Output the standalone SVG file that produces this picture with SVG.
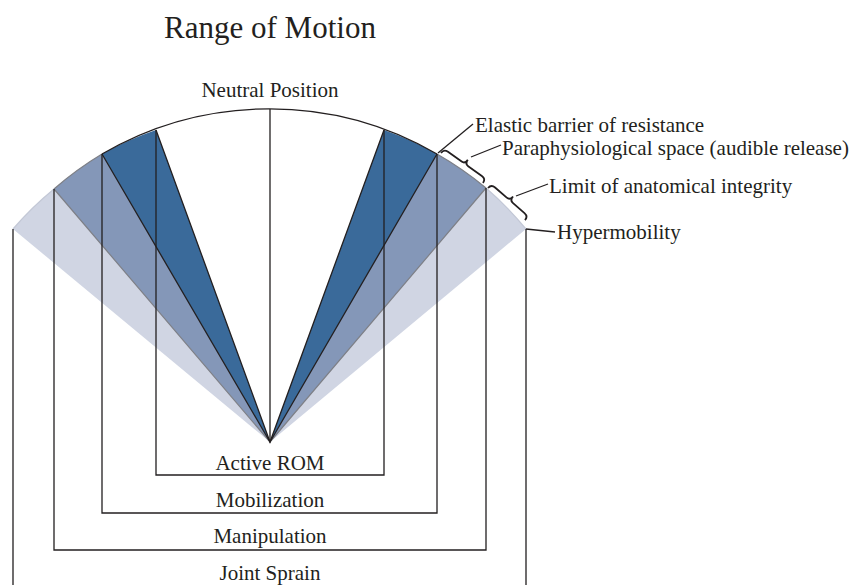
<svg xmlns="http://www.w3.org/2000/svg" width="853" height="585" viewBox="0 0 853 585">
<style>
text{font-family:"Liberation Serif","Times New Roman",serif;fill:#231f20;font-size:21px}
.t{text-anchor:middle}
.blk{fill:none;stroke:#231f20;stroke-width:1.3}
.gry{fill:none;stroke:#7d7f86;stroke-width:1.2}
.lt{fill:none;stroke:#c3c8d6;stroke-width:1.2}
.dark{fill:#3a6a9a}
.med{fill:#8497b8}
.light{fill:#d0d5e3}
.brace{fill:none;stroke:#231f20;stroke-width:1.8}
</style>
<rect width="853" height="585" fill="#fff"/>
<text x="270" y="38" class="t" style="font-size:31px">Range of Motion</text>
<g id="wedges">
<path class="light" d="M270,442 L13,229 A333,333 0 0 1 54,189 Z"/>
<path class="light" d="M270,442 L486,188 A333,333 0 0 1 526,229 Z"/>
<path class="med" d="M270,442 L54,189 A333,333 0 0 1 102,154 Z"/>
<path class="med" d="M270,442 L437,154 A333,333 0 0 1 486,188 Z"/>
<path class="dark" d="M270,442 L102,154 A333,333 0 0 1 156,130 Z"/>
<path class="dark" d="M270,442 L384,130 A333,333 0 0 1 437,154 Z"/>
<path class="lt" d="M13,229 A333,333 0 0 1 54,189"/>
<path class="lt" d="M486,188 A333,333 0 0 1 526,229"/>
<path class="gry" d="M54,189 A333,333 0 0 1 102,154"/>
<path class="gry" d="M437,154 A333,333 0 0 1 486,188"/>
<path class="gry" d="M54,189 L270,442 L486,188"/>
<path class="blk" d="M102,154 A333,333 0 0 1 437,154"/>
<path class="blk" d="M102,154 L270,442 L437,154"/>
<path class="blk" d="M156,130 L270,442 L384,130"/>
<path class="blk" d="M270,109 V442"/>
</g>
<g id="active-rom">
<path class="blk" d="M156,130 V475 H384 V130"/>
<text x="270" y="470" class="t">Active ROM</text>
</g>
<g id="mobilization">
<path class="blk" d="M102,154 V513 H437 V154"/>
<text x="270" y="507" class="t">Mobilization</text>
</g>
<g id="manipulation">
<path class="blk" d="M54,189 V550 H486 V188"/>
<text x="270" y="543" class="t">Manipulation</text>
</g>
<g id="joint-sprain">
<path class="blk" d="M13,229 V585 M526,229 V585"/>
<text x="270" y="580" class="t">Joint Sprain</text>
</g>
<g id="neutral">
<text x="270" y="97" class="t">Neutral Position</text>
</g>
<g id="labels">
<text x="475" y="132">Elastic barrier of resistance</text>
<text x="502" y="155">Paraphysiological space (audible release)</text>
<text x="549" y="193">Limit of anatomical integrity</text>
<text x="557" y="239">Hypermobility</text>
</g>
<g id="connectors">
<path class="blk" d="M438,153 L473,124"/>
<path class="blk" d="M471,157 L501,145"/>
<path class="blk" d="M516,196 L548,184"/>
<path class="blk" d="M526,229 L555,232"/>
<path class="brace" transform="translate(441,153) rotate(35.5)" d="M0,0 C0,-3 2,-5 5,-5 L21.8,-5 C24.8,-5 25.8,-7 25.8,-10 C25.8,-7 26.8,-5 29.8,-5 L46.6,-5 C49.6,-5 51.6,-3 51.6,0"/>
<path class="brace" transform="translate(488,188) rotate(41)" d="M0,0 C0,-3 2,-5 5,-5 L20.5,-5 C23.5,-5 24.5,-7 24.5,-10 C24.5,-7 25.5,-5 28.5,-5 L44,-5 C47,-5 49,-3 49,0"/>
</g>
</svg>
